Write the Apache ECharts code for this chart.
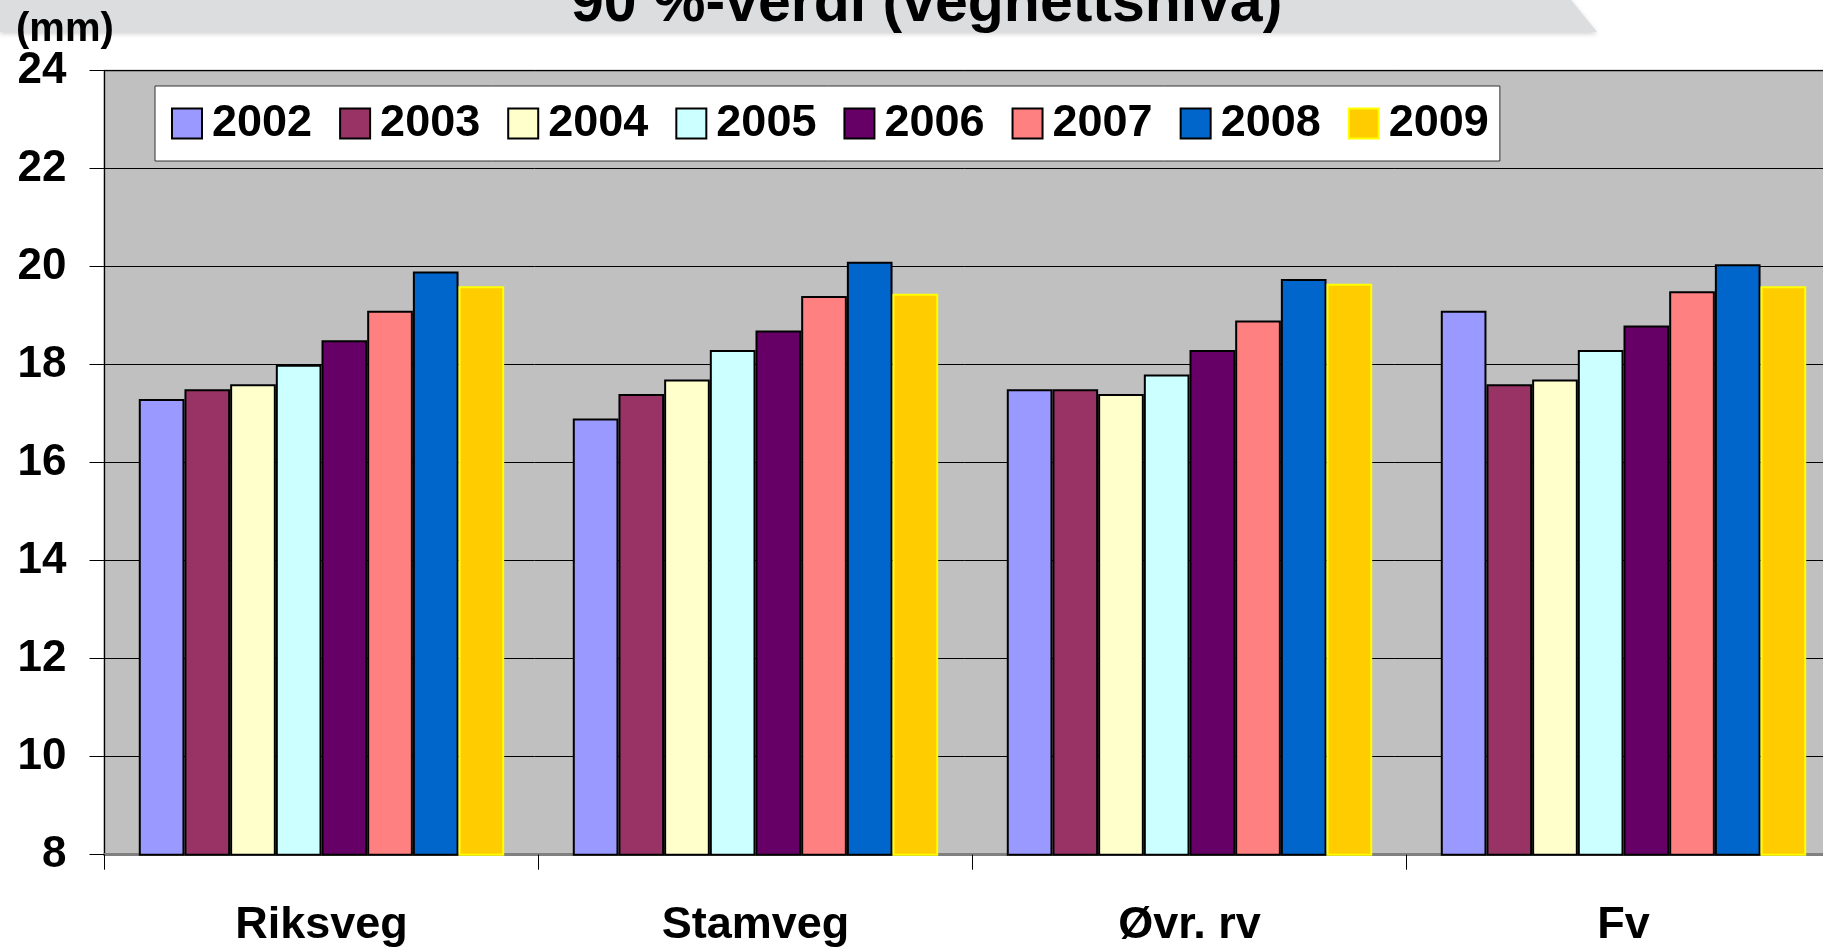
<!DOCTYPE html>
<html>
<head>
<meta charset="utf-8">
<title>90 %-verdi (vegnettsnivå)</title>
<script src="https://cdn.jsdelivr.net/npm/echarts@6/dist/echarts.min.js"></script>
<style>
    html, body { margin: 0; padding: 0; background: #fff; }
    #mainView { width: 1823px; height: 949px; }
</style>
</head>
<body>
<div id="mainView"></div>
<script>
// road categories and years
var categories = ['Riksveg', 'Stamveg', 'Øvr. rv', 'Fv'];
var years = ['2002', '2003', '2004', '2005', '2006', '2007', '2008', '2009'];

// 90 % values (mm), one array per year, in category order
var v2002 = [17.3, 16.9, 17.5, 19.1];
var v2003 = [17.5, 17.4, 17.5, 17.6];
var v2004 = [17.6, 17.7, 17.4, 17.7];
var v2005 = [18.0, 18.3, 17.8, 18.3];
var v2006 = [18.5, 18.7, 18.3, 18.8];
var v2007 = [19.1, 19.4, 18.9, 19.5];
var v2008 = [19.9, 20.1, 19.75, 20.05];
var v2009 = [19.6, 19.45, 19.65, 19.6];

var yTicks = [8, 10, 12, 14, 16, 18, 20, 22, 24];

window.onload = function () {
    showMainView();
};

function showMainView() {
    var values = [v2002, v2003, v2004, v2005, v2006, v2007, v2008, v2009];
    var colors = ['#9999FF', '#993366', '#FFFFCC', '#CCFFFF', '#660066', '#FF8080', '#0066CC', '#FFCC00'];
    var font = '"Liberation Sans", Arial, Helvetica, sans-serif';

    var series = [];
    for (var i = 0; i < years.length; i++) {
        series.push({
            name: years[i],
            type: 'bar',
            barGap: 0,
            barCategoryGap: '15.8%',
            itemStyle: {
                color: colors[i],
                borderColor: i === 7 ? '#FFFF00' : '#000000',
                borderWidth: 2
            },
            data: values[i]
        });
    }

    var chart = echarts.init(document.getElementById('mainView'), null, {renderer: 'canvas'});
    chart.setOption({
        backgroundColor: '#ffffff',
        animation: false,
        textStyle: {fontFamily: font},
        graphic: [
            {
                // grey banner behind the title
                type: 'polygon',
                z: 0,
                shape: {points: [[0, -5], [1567, -5], [1597, 32], [0, 32]]},
                style: {
                    fill: '#DCDDDF',
                    shadowBlur: 5,
                    shadowColor: 'rgba(0,0,0,0.18)',
                    shadowOffsetY: 2
                }
            }
        ],
        title: [
            {
                text: '90 %-verdi (vegnettsnivå)',
                left: 571,
                top: -25,
                padding: 0,
                textStyle: {fontFamily: font, fontSize: 59, fontWeight: 'bold', color: '#000'}
            },
            {
                text: '(mm)',
                left: 16,
                top: 10,
                padding: 0,
                textStyle: {fontFamily: font, fontSize: 40, fontWeight: 'bold', color: '#000'}
            }
        ],
        legend: {
            data: years,
            left: 155,
            top: 86,
            orient: 'horizontal',
            icon: 'rect',
            itemWidth: 30,
            itemHeight: 30,
            itemGap: 27,
            padding: [15, 11, 15, 16],
            backgroundColor: '#ffffff',
            borderColor: '#333333',
            borderWidth: 1,
            textStyle: {
                fontFamily: font,
                fontSize: 45,
                fontWeight: 'bold',
                color: '#000',
                lineHeight: 31,
                padding: [0, 0, 0, 5]
            }
        },
        grid: {
            left: 104.5,
            right: -17.5,
            top: 70.7,
            bottom: 94.3,
            show: true,
            backgroundColor: '#C0C0C0',
            borderColor: '#808080',
            borderWidth: 2,
            outerBoundsMode: 'none'
        },
        xAxis: {
            type: 'category',
            data: categories,
            boundaryGap: true,
            axisLine: {lineStyle: {color: '#808080', width: 3}},
            axisTick: {show: true, length: 15, lineStyle: {color: '#000', width: 1}},
            axisLabel: {
                margin: 48,
                fontFamily: font,
                fontSize: 45,
                fontWeight: 'bold',
                color: '#000'
            },
            splitLine: {show: false}
        },
        yAxis: {
            type: 'value',
            min: yTicks[0],
            max: yTicks[yTicks.length - 1],
            interval: yTicks[1] - yTicks[0],
            axisLine: {show: true, lineStyle: {color: '#000', width: 1}},
            axisTick: {show: true, length: 15, lineStyle: {color: '#000', width: 1}},
            axisLabel: {
                margin: 38,
                fontFamily: font,
                fontSize: 44,
                fontWeight: 'bold',
                color: '#000'
            },
            splitLine: {show: true, lineStyle: {color: '#000', width: 1}}
        },
        series: series
    });
}
</script>
</body>
</html>
